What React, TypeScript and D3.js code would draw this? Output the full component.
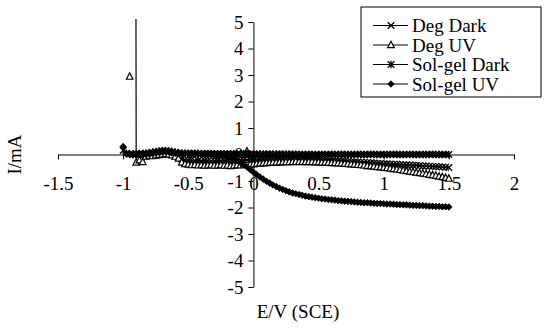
import { useEffect, useRef } from 'react'
import * as d3 from 'd3'

// potential sweep (V vs SCE)
const potential = [
  -1, -0.975, -0.95, -0.925, -0.9, -0.875, -0.85, -0.825, -0.8, -0.775,
  -0.75, -0.725, -0.7, -0.675, -0.65, -0.625, -0.6, -0.575, -0.55, -0.525,
  -0.5, -0.475, -0.45, -0.425, -0.4, -0.375, -0.35, -0.325, -0.3, -0.275,
  -0.25, -0.225, -0.2, -0.175, -0.15, -0.125, -0.1, -0.075, -0.05, -0.025,
  0, 0.025, 0.05, 0.075, 0.1, 0.125, 0.15, 0.175, 0.2, 0.225,
  0.25, 0.275, 0.3, 0.325, 0.35, 0.375, 0.4, 0.425, 0.45, 0.475,
  0.5, 0.525, 0.55, 0.575, 0.6, 0.625, 0.65, 0.675, 0.7, 0.725,
  0.75, 0.775, 0.8, 0.825, 0.85, 0.875, 0.9, 0.925, 0.95, 0.975,
  1, 1.025, 1.05, 1.075, 1.1, 1.125, 1.15, 1.175, 1.2, 1.225,
  1.25, 1.275, 1.3, 1.325, 1.35, 1.375, 1.4, 1.425, 1.45, 1.475,
  1.5,
]

const degDark = [
  null, null, null, 80, 0.02, -0.02, -0.05, -0.03, -0.04, -0.02,
  -0.01, 0.03, 0.05, 0.04, 0.02, -0.02, -0.06, -0.1, -0.16, -0.2,
  -0.22, -0.2, -0.23, -0.22, -0.24, -0.22, -0.23, -0.25, -0.24, -0.22,
  -0.24, -0.23, -0.22, -0.24, -0.23, -0.21, -0.22, -0.2, -0.21, -0.19,
  -0.18, -0.19, -0.18, -0.17, -0.18, -0.17, -0.18, -0.17, -0.18, -0.17,
  -0.18, -0.18, -0.19, -0.18, -0.19, -0.2, -0.19, -0.2, -0.2, -0.21,
  -0.21, -0.22, -0.22, -0.23, -0.23, -0.24, -0.24, -0.25, -0.25, -0.26,
  -0.27, -0.27, -0.28, -0.29, -0.3, -0.3, -0.31, -0.32, -0.33, -0.34,
  -0.35, -0.35, -0.36, -0.37, -0.37, -0.38, -0.39, -0.39, -0.4, -0.41,
  -0.41, -0.42, -0.43, -0.43, -0.44, -0.45, -0.45, -0.46, -0.47, -0.48,
  -0.49,
]

const degUV = [
  null, null, 2.94, null, -0.3, -0.22, -0.28, -0.08, -0.05, -0.06,
  -0.04, -0.02, 0, 0.02, 0, -0.03, -0.08, -0.15, -0.3, -0.36,
  -0.38, -0.4, -0.39, -0.41, -0.4, -0.42, -0.41, -0.4, -0.42, -0.41,
  -0.4, -0.42, -0.41, -0.43, -0.42, -0.4, -0.41, -0.38, 0.12, -0.38,
  -0.37, -0.35, -0.34, -0.33, -0.32, -0.31, -0.3, -0.3, -0.29, -0.29,
  -0.28, -0.28, -0.28, -0.27, -0.28, -0.27, -0.28, -0.28, -0.28, -0.29,
  -0.29, -0.3, -0.3, -0.31, -0.32, -0.32, -0.33, -0.34, -0.35, -0.36,
  -0.37, -0.38, -0.39, -0.4, -0.41, -0.43, -0.44, -0.45, -0.47, -0.48,
  -0.5, -0.51, -0.53, -0.55, -0.56, -0.58, -0.6, -0.62, -0.64, -0.66,
  -0.68, -0.7, -0.72, -0.74, -0.76, -0.78, -0.8, -0.83, -0.85, -0.88,
  -0.91,
]

const solGelDark = [
  0.15, 0.05, 0.02, 0, 0.03, 0.04, 0.02, 0.05, 0.06, 0.08,
  0.1, 0.12, 0.14, 0.15, 0.13, 0.1, 0.08, 0.06, 0.05, 0.04,
  0.05, 0.04, 0.05, 0.04, 0.03, 0.04, 0.03, 0.04, 0.03, 0.03,
  0.03, 0.02, 0.03, 0.02, 0.03, 0.02, 0.02, 0.03, 0.02, 0.02,
  0.02, 0.02, 0.01, 0.02, 0.01, 0.02, 0.01, 0.01, 0.02, 0.01,
  0.01, 0.01, 0.01, 0.01, 0, 0.01, 0, 0.01, 0, 0,
  0, 0.01, 0, 0, 0.01, 0, 0, 0.01, 0, 0,
  0, 0, 0.01, 0, 0, 0, 0.01, 0, 0, 0,
  0, 0, 0, 0.01, 0, 0, 0, 0, 0.01, 0,
  0, 0, 0, 0, 0, 0.01, 0, 0, 0, 0,
  0,
]

const solGelUV = [
  0.3, 0.02, 0, -0.02, 0, 0.01, 0.02, 0.03, 0.05, 0.06,
  0.08, 0.1, 0.12, 0.11, 0.1, 0.08, 0.06, 0.05, 0.04, 0.03,
  0.02, 0.02, 0.01, 0.01, 0, 0, -0.01, -0.02, -0.03, -0.03,
  -0.03, -0.05, -0.08, -0.12, -0.17, -0.23, -0.3, -0.38, -0.47, -0.57,
  -0.67, -0.76, -0.85, -0.93, -1.01, -1.08, -1.15, -1.21, -1.27, -1.32,
  -1.37, -1.41, -1.45, -1.48, -1.51, -1.54, -1.57, -1.59, -1.61, -1.63,
  -1.65, -1.67, -1.68, -1.7, -1.71, -1.72, -1.74, -1.75, -1.76, -1.77,
  -1.78, -1.79, -1.8, -1.81, -1.82, -1.82, -1.83, -1.84, -1.85, -1.85,
  -1.86, -1.87, -1.87, -1.88, -1.89, -1.89, -1.9, -1.9, -1.91, -1.92,
  -1.92, -1.93, -1.93, -1.94, -1.95, -1.95, -1.96, -1.96, -1.97, -1.97,
  -1.98,
]

const seriesNames = ['Deg Dark', 'Deg UV', 'Sol-gel Dark', 'Sol-gel UV']
const seriesValues = [degDark, degUV, solGelDark, solGelUV]
const markerKinds = ['x', 'triangle', 'asterisk', 'diamond']

const xTicks = [-1.5, -1, -0.5, 0, 0.5, 1, 1.5, 2]
const yTicks = [-5, -4, -3, -2, -1, 0, 1, 2, 3, 4, 5]

const WIDTH = 555
const HEIGHT = 333
const FONT = '"Liberation Serif", "Times New Roman", serif'

function markerPath(kind: string, s: number) {
  if (kind === 'x') return `M${-s},${-s}L${s},${s}M${-s},${s}L${s},${-s}`
  if (kind === 'asterisk')
    return `M${-s},${-s}L${s},${s}M${-s},${s}L${s},${-s}M0,${-s - 0.5}L0,${s + 0.5}`
  if (kind === 'triangle')
    return `M0,${-s - 0.5}L${s},${s * 0.8}L${-s},${s * 0.8}Z`
  return `M0,${-s}L${s},0L0,${s}L${-s},0Z`
}

function styleMarker(sel: d3.Selection<SVGPathElement, any, any, any>, kind: string) {
  if (kind === 'triangle') {
    sel.attr('fill', 'white').attr('stroke', 'black').attr('stroke-width', 1.2)
  } else if (kind === 'diamond') {
    sel.attr('fill', 'black').attr('stroke', 'black').attr('stroke-width', 0.8)
  } else {
    sel.attr('fill', 'none').attr('stroke', 'black').attr('stroke-width', 1.3)
  }
}

export default function App() {
  const svgRef = useRef<SVGSVGElement>(null)

  useEffect(() => {
    if (!svgRef.current) return
    document.body.style.margin = '0'

    const svg = d3.select(svgRef.current)
    svg.selectAll('*').remove()

    svg.append('rect').attr('width', WIDTH).attr('height', HEIGHT).attr('fill', 'white')

    const x = d3.scaleLinear().domain([-1.5, 2]).range([58, 514])
    const y = d3.scaleLinear().domain([-5, 5]).range([287, 22])

    // clip to plot area
    svg
      .append('clipPath')
      .attr('id', 'plot-clip')
      .append('rect')
      .attr('x', 58)
      .attr('y', 19)
      .attr('width', 456)
      .attr('height', 271)

    // X axis through zero, labels sit well below
    const xAxis = svg
      .append('g')
      .attr('transform', `translate(0,${y(0)})`)
      .call(
        d3
          .axisBottom(x)
          .tickValues(xTicks)
          .tickSize(5)
          .tickSizeOuter(0)
          .tickPadding(17)
          .tickFormat((d) => String(d))
      )

    // Y axis through zero
    const yAxis = svg
      .append('g')
      .attr('transform', `translate(${x(0)},0)`)
      .call(
        d3
          .axisLeft(y)
          .tickValues(yTicks)
          .tickSize(5)
          .tickSizeOuter(0)
          .tickPadding(5)
          .tickFormat((d) => String(d))
      )

    ;[xAxis, yAxis].forEach((ax) => {
      ax.select('.domain').attr('stroke', 'black').attr('stroke-width', 1)
      ax.selectAll('.tick line').attr('stroke', 'black')
      ax.selectAll('.tick text')
        .attr('fill', 'black')
        .attr('font-family', FONT)
        .attr('font-size', '19px')
    })

    // Series
    const plot = svg.append('g').attr('clip-path', 'url(#plot-clip)')

    seriesValues.forEach((vals, si) => {
      const pts = potential.map((e, i) => ({ e, v: vals[i] }))
      const line = d3
        .line<{ e: number; v: number | null }>()
        .defined((d) => d.v !== null)
        .x((d) => x(d.e))
        .y((d) => y(d.v as number))

      plot
        .append('path')
        .datum(pts)
        .attr('d', line)
        .attr('fill', 'none')
        .attr('stroke', 'black')
        .attr('stroke-width', 1.2)

      const kind = markerKinds[si]
      const marks = plot
        .selectAll(`.mk-${si}`)
        .data(pts.filter((d) => d.v !== null))
        .enter()
        .append('path')
        .attr('class', `mk-${si}`)
        .attr('transform', (d) => `translate(${x(d.e)},${y(d.v as number)})`)
        .attr('d', markerPath(kind, 3.3))
      styleMarker(marks, kind)
    })

    // Axis titles
    svg
      .append('text')
      .attr('x', 298)
      .attr('y', 318)
      .attr('text-anchor', 'middle')
      .attr('font-family', FONT)
      .attr('font-size', '19px')
      .text('E/V (SCE)')

    svg
      .append('text')
      .attr('transform', `translate(21,${y(0)}) rotate(-90)`)
      .attr('text-anchor', 'middle')
      .attr('font-family', FONT)
      .attr('font-size', '19px')
      .text('I/mA')

    // Legend
    const legend = svg.append('g').attr('transform', 'translate(361,7)')
    legend
      .append('rect')
      .attr('width', 180)
      .attr('height', 90)
      .attr('fill', 'white')
      .attr('stroke', 'black')
      .attr('stroke-width', 1)

    seriesNames.forEach((name, i) => {
      const cy = 18.5 + i * 19.5
      legend
        .append('line')
        .attr('x1', 12)
        .attr('x2', 47)
        .attr('y1', cy)
        .attr('y2', cy)
        .attr('stroke', 'black')
        .attr('stroke-width', 1.2)
      const mk = legend
        .append('path')
        .attr('transform', `translate(30,${cy})`)
        .attr('d', markerPath(markerKinds[i], 3.3))
      styleMarker(mk, markerKinds[i])
      legend
        .append('text')
        .attr('x', 51)
        .attr('y', cy)
        .attr('dominant-baseline', 'central')
        .attr('font-family', FONT)
        .attr('font-size', '19px')
        .text(name)
    })
  }, [])

  return <svg ref={svgRef} width={WIDTH} height={HEIGHT} style={{ display: 'block' }} />
}
